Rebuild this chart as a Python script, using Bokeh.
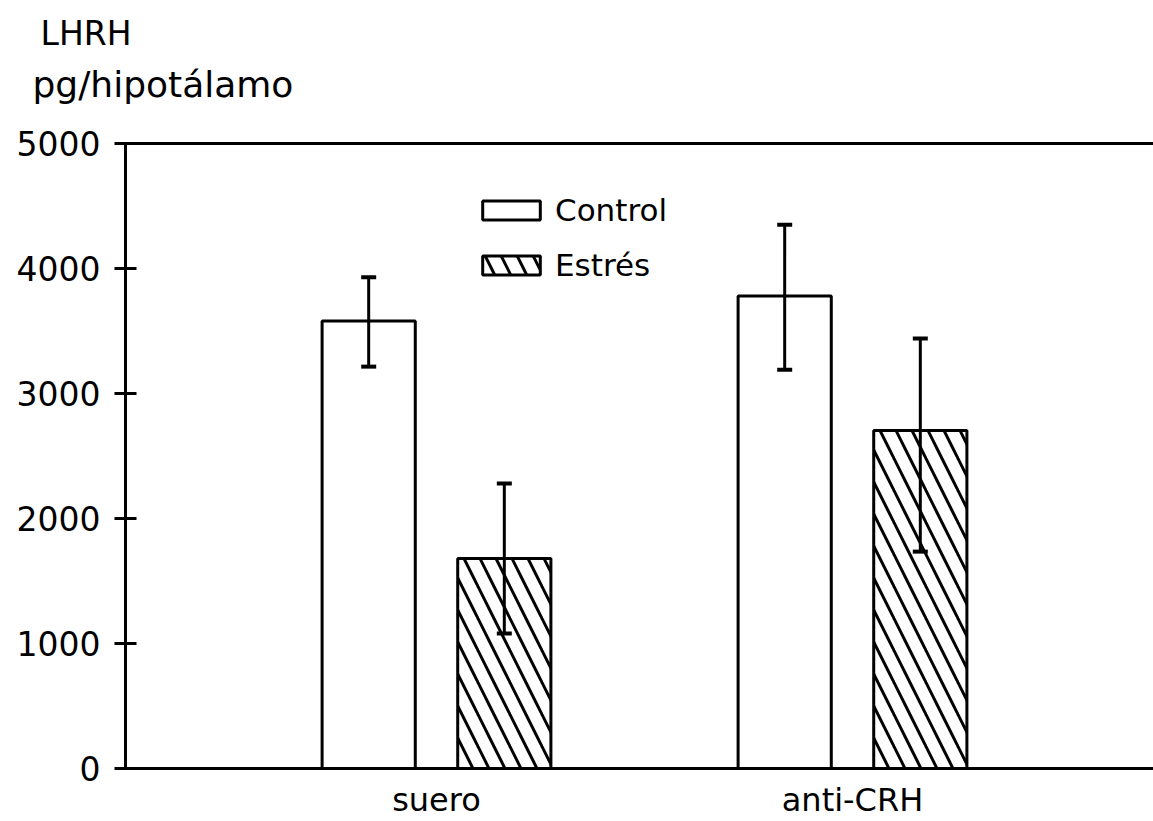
from bokeh.plotting import figure
from bokeh.models import (Range1d, ColumnDataSource, Whisker, TeeHead, Title,
                          Legend, LegendItem, FixedTicker, LinearAxis)
from bokeh.embed import file_html
from bokeh.resources import INLINE

# ---- data ----
categories = ["suero", "anti-CRH"]
series = ["Control", "Estrés"]
control_mean = [3580, 3780]
control_low = [3215, 3190]
control_high = [3930, 4350]
estres_mean = [1680, 2705]
estres_low = [1080, 1735]
estres_high = [2280, 3440]
y_ticks = [0, 1000, 2000, 3000, 4000, 5000]
y_title = ["LHRH", "pg/hipotálamo"]

FONT = "DejaVu Sans"
W, H = 1153, 821
LEFT, TOP, BOTTOM = 125, 143, 53
PX_PER_UNIT = 416.0
FRAME_W = W - LEFT
X0 = 1 - 311 / PX_PER_UNIT
X1 = X0 + FRAME_W / PX_PER_UNIT
OFFSET = 0.163
BAR_W = 0.224

pos = [i + 1 for i in range(len(categories))]

src_c = ColumnDataSource(dict(x=[q - OFFSET for q in pos], top=control_mean,
                              lower=control_low, upper=control_high))
src_e = ColumnDataSource(dict(x=[q + OFFSET for q in pos], top=estres_mean,
                              lower=estres_low, upper=estres_high))

p = figure(width=W, height=H, output_backend="svg", toolbar_location=None,
           x_range=Range1d(X0, X1), y_range=Range1d(0, 5000),
           min_border_left=LEFT, min_border_right=0, min_border_top=TOP,
           min_border_bottom=BOTTOM)
p.outline_line_color = None
p.grid.visible = False
p.background_fill_color = "white"

# y axis
ay = p.yaxis[0]
ay.ticker = FixedTicker(ticks=y_ticks)
ay.axis_line_width = 3
ay.axis_line_color = "black"
ay.major_tick_line_width = 3
ay.major_tick_line_color = "black"
ay.major_tick_in = 11
ay.major_tick_out = 11
ay.minor_tick_line_color = None
ay.major_label_text_font = FONT
ay.major_label_text_font_size = "33px"
ay.major_label_text_color = "black"
ay.major_label_standoff = 14

# x axis: category names
ax = p.xaxis[0]
ax.ticker = FixedTicker(ticks=pos)
ax.major_label_overrides = {q: c for q, c in zip(pos, categories)}
ax.axis_line_width = 3
ax.axis_line_color = "black"
ax.major_tick_line_color = None
ax.major_tick_in = 0
ax.major_tick_out = 0
ax.minor_tick_line_color = None
ax.major_label_text_font = FONT
ax.major_label_text_font_size = "32px"
ax.major_label_text_color = "black"
ax.major_label_standoff = 12

# top border line at 5000
at = LinearAxis(ticker=FixedTicker(ticks=[]), axis_line_width=3,
                axis_line_color="black", major_tick_line_color=None,
                minor_tick_line_color=None, major_label_text_font_size="0px",
                major_tick_in=0, major_tick_out=0, major_label_standoff=0)
p.add_layout(at, "above")

r_ctrl = p.vbar(x="x", top="top", bottom=0, width=BAR_W, source=src_c,
                fill_color="white", line_color="black", line_width=3)
r_est = p.vbar(x="x", top="top", bottom=0, width=BAR_W, source=src_e,
               fill_color="white", line_color="black", line_width=3,
               hatch_pattern="\\", hatch_color="black", hatch_weight=3,
               hatch_scale=32)

for src in (src_c, src_e):
    w = Whisker(base="x", upper="upper", lower="lower", source=src,
                line_width=3, line_color="black", level="overlay",
                upper_head=TeeHead(size=15, line_width=4, line_color="black"),
                lower_head=TeeHead(size=15, line_width=4, line_color="black"))
    p.add_layout(w)

# y axis title, two lines
p.add_layout(Title(text=y_title[1], align="left", offset=-93, standoff=77,
                   text_font=FONT, text_font_size="36px", text_font_style="normal",
                   text_color="black"), "above")
p.add_layout(Title(text=y_title[0], align="left", offset=-85, standoff=-58,
                   text_font=FONT, text_font_size="33px", text_font_style="normal",
                   text_color="black"), "above")

legend = Legend(items=[LegendItem(label=series[0], renderers=[r_ctrl]),
                       LegendItem(label=series[1], renderers=[r_est])],
                location=(350, 485), glyph_width=72, glyph_height=24,
                label_standoff=8, spacing=19, padding=0, margin=0,
                border_line_color=None, background_fill_alpha=0,
                label_text_font=FONT, label_text_font_size="31px",
                label_text_color="black", label_height=30)
p.add_layout(legend)

open("out.html", "w").write(file_html(p, INLINE))
